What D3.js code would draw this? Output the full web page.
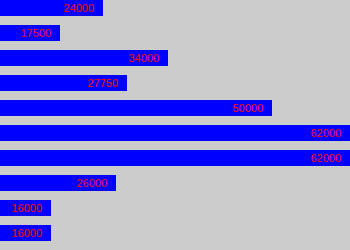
<!DOCTYPE html>
<html>
<head>
<meta charset="utf-8">
<script src="https://cdn.jsdelivr.net/npm/d3@7"></script>
<style>
    body { margin: 0; background: #cccccc; }
    svg { display: block; }
    .bar-label { font-family: "Liberation Sans", Arial, sans-serif; font-size: 11px; fill: #ff0000; }
</style>
</head>
<body>
<svg id="chart"></svg>
<script>
// salary values, top to bottom
const categories = ['r1', 'r2', 'r3', 'r4', 'r5', 'r6', 'r7', 'r8', 'r9', 'r10'];
const values = [24000, 17500, 34000, 27750, 50000, 62000, 62000, 26000, 16000, 16000];
const labels = ['24000', '17500', '34000', '27750', '50000', '62000', '62000', '26000', '16000', '16000'];
const axisMin = 8150;

const width = 350, height = 250;

const svg = d3.select('#chart')
    .attr('width', width)
    .attr('height', height);

svg.append('rect')
    .attr('width', width)
    .attr('height', height)
    .attr('fill', '#cccccc');

const yScale = d3.scaleBand()
    .domain(categories)
    .range([0, 241])
    .paddingInner(0.36)
    .paddingOuter(0);

const xScale = d3.scaleLinear()
    .domain([axisMin, d3.max(values)])
    .range([0, width]);

const rows = categories.map((c, i) => ({cat: c, value: values[i], label: labels[i]}));

svg.selectAll('.bar')
    .data(rows)
    .join('rect')
    .attr('class', 'bar')
    .attr('x', 0)
    .attr('y', d => yScale(d.cat))
    .attr('width', d => Math.floor(xScale(d.value)))
    .attr('height', yScale.bandwidth())
    .attr('fill', '#0000ff');

svg.selectAll('.bar-label')
    .data(rows)
    .join('text')
    .attr('class', 'bar-label')
    .attr('x', d => Math.floor(xScale(d.value)) - 9)
    .attr('y', d => yScale(d.cat) + 12)
    .attr('text-anchor', 'end')
    .text(d => d.label);
</script>
</body>
</html>
